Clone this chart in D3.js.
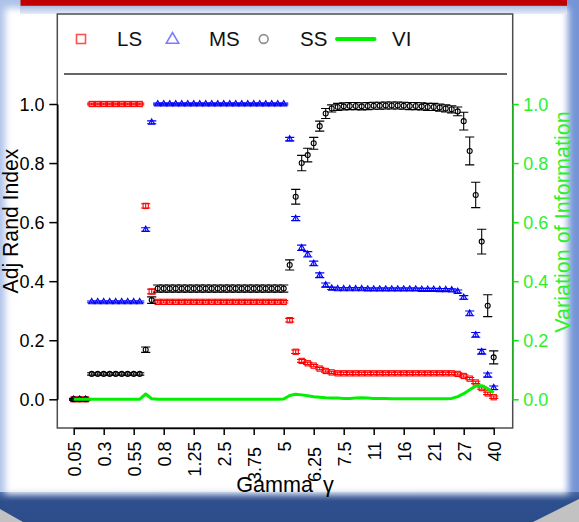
<!DOCTYPE html>
<html>
<head>
<meta charset="utf-8">
<script src="https://cdn.jsdelivr.net/npm/d3@7"></script>
<style>
body { margin: 0; overflow: hidden; background: #fff; }
svg text { font-family: "Liberation Sans", Arial, sans-serif; }
</style>
</head>
<body>
<div id="chart"></div>
<script>
"use strict"

// gamma value written under every fifth run
const tickLabels = ["0.05","0.3","0.55","0.8","1.25","2.5","3.75","5","6.25","7.5","11","16","21","27","40"];
const yTicks = [0, 0.2, 0.4, 0.6, 0.8, 1.0];

// adjusted Rand index per run (71 runs), with error half-widths
const ls = [0,0,0,
	1,1,1,1,1,1,1,1,1,
	0.655,0.365,
	0.33,0.33,0.33,0.33,0.33,0.33,0.33,0.33,0.33,0.33,0.33,0.33,0.33,0.33,0.33,0.33,0.33,0.33,0.33,0.33,0.33,0.33,
	0.268,0.161,0.13,0.122,0.114,0.104,0.096,0.091,
	0.088,0.088,0.088,0.088,0.088,0.088,0.088,0.088,0.088,0.088,0.088,0.088,0.088,0.088,0.088,0.088,0.088,0.088,0.088,0.088,
	0.086,0.079,0.07,0.057,0.038,0.02,0.007];
const lsErr = [0.002,0.002,0.002,
	0.003,0.003,0.003,0.003,0.003,0.003,0.003,0.003,0.003,
	0.007,0.008,
	0.004,0.004,0.004,0.004,0.004,0.004,0.004,0.004,0.004,0.004,0.004,0.004,0.004,0.004,0.004,0.004,0.004,0.004,0.004,0.004,0.004,0.004,
	0.006,0.006,0.005,0.004,0.004,0.004,0.004,0.004,
	0.004,0.004,0.004,0.004,0.004,0.004,0.004,0.004,0.004,0.004,0.004,0.004,0.004,0.004,0.004,0.004,0.004,0.004,0.004,0.004,
	0.004,0.004,0.004,0.004,0.004,0.004,0.004];

const ms = [0,0,0,
	0.33,0.33,0.33,0.33,0.33,0.33,0.33,0.33,0.33,
	0.575,0.938,
	1,1,1,1,1,1,1,1,1,1,1,1,1,1,1,1,1,1,1,1,1,1,
	0.881,0.612,0.513,0.491,0.46,0.42,0.387,0.376,
	0.374,0.374,0.374,0.374,0.374,0.373,0.373,0.373,0.373,0.373,0.373,0.373,0.373,0.373,0.372,0.372,0.372,0.371,0.371,0.37,
	0.365,0.345,0.291,0.218,0.161,0.082,0.039];
const msErr = [0.002,0.002,0.002,
	0.003,0.003,0.003,0.003,0.003,0.003,0.003,0.003,0.003,
	0.006,0.005,
	0.003,0.003,0.003,0.003,0.003,0.003,0.003,0.003,0.003,0.003,0.003,0.003,0.003,0.003,0.003,0.003,0.003,0.003,0.003,0.003,0.003,0.003,
	0.006,0.007,0.009,0.009,0.008,0.008,0.007,0.004,
	0.004,0.004,0.004,0.004,0.004,0.004,0.004,0.004,0.004,0.004,0.004,0.004,0.004,0.004,0.004,0.004,0.004,0.004,0.004,0.004,
	0.005,0.006,0.008,0.008,0.008,0.007,0.006];

const ss = [0,0,0,
	0.086,0.086,0.086,0.086,0.086,0.086,0.086,0.086,0.086,
	0.168,0.336,
	0.375,0.375,0.375,0.375,0.375,0.375,0.375,0.375,0.375,0.375,0.375,0.375,0.375,0.375,0.375,0.375,0.375,0.375,0.375,0.375,0.375,0.375,
	0.455,0.686,0.80,0.827,0.867,0.925,0.968,0.985,
	0.99,0.992,0.993,0.993,0.992,0.993,0.994,0.994,0.995,0.995,0.995,0.994,0.993,0.993,0.992,0.99,0.99,0.988,0.985,0.982,
	0.975,0.942,0.841,0.692,0.534,0.317,0.142];
const ssErr = [0.003,0.003,0.003,
	0.004,0.004,0.004,0.004,0.004,0.004,0.004,0.004,0.004,
	0.009,0.011,
	0.012,0.012,0.012,0.012,0.012,0.012,0.012,0.012,0.012,0.012,0.012,0.012,0.012,0.012,0.012,0.012,0.012,0.012,0.012,0.012,0.012,0.012,
	0.017,0.025,0.026,0.023,0.02,0.017,0.017,0.012,
	0.012,0.012,0.012,0.012,0.012,0.012,0.012,0.012,0.012,0.012,0.012,0.012,0.012,0.012,0.012,0.012,0.012,0.012,0.012,0.012,
	0.015,0.03,0.047,0.043,0.042,0.037,0.022];

// variation of information (right axis)
const vi = [0,0,0,0,0,0,0,0,0,0,0,
	0,0.018,0.002,
	0,0,0,0,0,0,0,0,0,0,0,0,0,0,0,0,0,0,0,0,0,
	0.001,0.013,0.017,0.015,0.012,0.009,0.007,0.005,0.004,0.004,0.003,0.003,0.004,0.005,0.004,
	0.003,0.003,0.003,0.002,0.002,0.002,0.002,0.002,0.002,0.002,0.002,0.002,0.002,
	0.003,0.009,0.019,0.032,0.045,0.046,0.036,0.022];

const W = 579, H = 522;
const box = {left: 57.3, right: 512.7, top: 14, bottom: 428};

const svg = d3.select("#chart").append("svg")
	.attr("width", W)
	.attr("height", H);

// ---- slide frame ----
const defs = svg.append("defs");
const bg = defs.append("linearGradient").attr("id", "bg")
	.attr("x1", 0).attr("x2", 1).attr("y1", 0).attr("y2", 0);
bg.append("stop").attr("offset", 0).attr("stop-color", "#aec3ea");
bg.append("stop").attr("offset", 1).attr("stop-color", "#7494d6");
const band = defs.append("linearGradient").attr("id", "band")
	.attr("x1", 0).attr("x2", 0).attr("y1", 0).attr("y2", 1);
band.append("stop").attr("offset", 0).attr("stop-color", "#4a6aa6");
band.append("stop").attr("offset", 0.3).attr("stop-color", "#2e4f8d");
band.append("stop").attr("offset", 1).attr("stop-color", "#2c4c8a");
const shade = defs.append("linearGradient").attr("id", "shade")
	.attr("x1", 0).attr("x2", 0).attr("y1", 0).attr("y2", 1);
shade.append("stop").attr("offset", 0).attr("stop-color", "#a9bce2");
shade.append("stop").attr("offset", 1).attr("stop-color", "#e6ecf7");
defs.append("filter").attr("id", "soft")
	.append("feGaussianBlur").attr("stdDeviation", 3.5);
defs.append("clipPath").attr("id", "plotClip")
	.append("rect")
	.attr("x", box.left).attr("y", box.top)
	.attr("width", box.right - box.left).attr("height", box.bottom - box.top);

svg.append("rect").attr("width", W).attr("height", H).attr("fill", "url(#bg)");
svg.append("rect").attr("x", 0).attr("y", 492).attr("width", W).attr("height", 30).attr("fill", "url(#band)");
svg.append("path").attr("d", "M0,509L23,522L0,522Z").attr("fill", "#c2c2c2");
svg.append("path").attr("d", "M533,522L579,499L579,522Z").attr("fill", "#c2c2c2");
svg.append("rect")
	.attr("x", 5).attr("y", 8).attr("width", 563).attr("height", 486)
	.attr("fill", "#fff").attr("filter", "url(#soft)");
svg.append("rect").attr("x", 20).attr("y", 5.5).attr("width", 547).attr("height", 8.5).attr("fill", "url(#shade)");
svg.append("rect").attr("x", 20.5).attr("y", 0).attr("width", 546.5).attr("height", 5.8).attr("fill", "#c00000");
svg.append("rect")
	.attr("x", box.left).attr("y", box.top)
	.attr("width", box.right - box.left).attr("height", box.bottom - box.top)
	.attr("fill", "#fff");

// ---- scales ----
const x = d3.scaleLinear().domain([0, ls.length - 1]).range([73.7, 493.7]);
const y = d3.scaleLinear().domain([0, 1]).range([399.3, 104]);
const yVi = d3.scaleLinear().domain([0, 1]).range([399.3, 104]);

const plot = svg.append("g").attr("clip-path", "url(#plotClip)");

function drawSeries(vals, errs, color, shape) {
	const g = plot.append("g")
		.attr("stroke", color)
		.attr("fill", "none")
		.attr("stroke-width", 1.1);
	const pt = g.selectAll("g")
		.data(vals.map((v, i) => ({i: i, v: v, e: errs[i]})))
		.join("g")
		.attr("transform", d => `translate(${x(d.i)},0)`);
	pt.append("path").attr("d", d => {
		const y0 = y(d.v - d.e), y1 = y(d.v + d.e);
		return `M-4.6,${y0}H4.6M0,${y0}V${y1}M-4.6,${y1}H4.6`;
	});
	if (shape === "square") {
		pt.append("rect")
			.attr("x", -2.6).attr("y", d => y(d.v) - 2.6)
			.attr("width", 5.2).attr("height", 5.2);
	} else if (shape === "triangle") {
		pt.append("path")
			.attr("d", d => `M0,${y(d.v) - 3.4}L3,${y(d.v) + 1.9}L-3,${y(d.v) + 1.9}Z`);
	} else {
		pt.append("circle").attr("cy", d => y(d.v)).attr("r", 2.5);
	}
}

drawSeries(ls, lsErr, "#ff0000", "square");
drawSeries(ms, msErr, "#0000ff", "triangle");
drawSeries(ss, ssErr, "#000000", "circle");

plot.append("path")
	.datum(vi)
	.attr("fill", "none")
	.attr("stroke", "#00f000")
	.attr("stroke-width", 3)
	.attr("stroke-linejoin", "round")
	.attr("d", d3.line().x((d, i) => x(i)).y(d => yVi(d)));

// ---- frame and axes ----
svg.append("rect")
	.attr("x", box.left).attr("y", box.top)
	.attr("width", box.right - box.left).attr("height", box.bottom - box.top)
	.attr("fill", "none").attr("stroke", "#4d4d4d").attr("stroke-width", 1.5);

// these two labels sit a little lower in the original
const droppedLabels = ["3.75", "6.25"];

const xAxis = svg.append("g")
	.attr("transform", `translate(0,${box.bottom})`)
	.style("color", "#000")
	.call(d3.axisBottom(x)
		.tickValues(tickLabels.map((t, k) => k * 5))
		.tickFormat((d, k) => tickLabels[k])
		.tickSize(7).tickSizeOuter(0));
xAxis.selectAll("path, line").attr("stroke-width", 1.5);
xAxis.selectAll("text")
	.attr("font-size", 18)
	.attr("font-family", "Liberation Sans, Arial, sans-serif")
	.attr("transform", "rotate(-90)")
	.attr("x", function() { return droppedLabels.indexOf(this.textContent) > -1 ? -19 : -13.5; })
	.attr("y", 0)
	.attr("dy", "0.36em")
	.attr("text-anchor", "end");

const yAxis = svg.append("g")
	.attr("transform", `translate(${box.left},0)`)
	.style("color", "#000")
	.call(d3.axisLeft(y).tickValues(yTicks).tickFormat(d3.format(".1f"))
		.tickSize(8).tickPadding(4.8).tickSizeOuter(0));
yAxis.selectAll("path, line").attr("stroke-width", 1.5);
yAxis.selectAll("text")
	.attr("font-size", 18)
	.attr("font-family", "Liberation Sans, Arial, sans-serif")
	.attr("dy", "0.36em");

const viAxis = svg.append("g")
	.attr("transform", `translate(${box.right},0)`)
	.style("color", "#00f000")
	.call(d3.axisRight(yVi).tickValues(yTicks).tickFormat(d3.format(".1f"))
		.tickSize(6).tickPadding(4.6).tickSizeOuter(0));
viAxis.selectAll("path, line").attr("stroke-width", 1.5);
viAxis.selectAll("text")
	.attr("font-size", 18)
	.attr("fill", "#2cf02c")
	.attr("font-family", "Liberation Sans, Arial, sans-serif")
	.attr("dy", "0.36em");

// axis titles
svg.append("text")
	.attr("transform", "translate(17.5,221)rotate(-90)")
	.attr("text-anchor", "middle")
	.attr("font-size", 21.2)
	.attr("fill", "#000")
	.text("Adj Rand Index");
svg.append("text")
	.attr("transform", "translate(570,222)rotate(-90)")
	.attr("text-anchor", "middle")
	.attr("font-size", 21.6)
	.attr("fill", "#2cf02c")
	.text("Variation of Information");
const xt = svg.append("text")
	.attr("x", 285).attr("y", 492)
	.attr("text-anchor", "middle")
	.attr("font-size", 21.6)
	.attr("fill", "#000");
xt.append("tspan").text("Gamma");
xt.append("tspan").attr("dx", 10).text("γ");

// ---- legend ----
const leg = svg.append("g");
leg.append("rect").attr("x", 76.5).attr("y", 34.5).attr("width", 9).attr("height", 9)
	.attr("fill", "none").attr("stroke", "#ff5050").attr("stroke-width", 1.6);
leg.append("path").attr("d", "M166.3,43.2L178.7,43.2L172.5,32.6Z")
	.attr("fill", "none").attr("stroke", "#7a7aff").attr("stroke-width", 1.6);
leg.append("circle").attr("cx", 263.7).attr("cy", 39).attr("r", 4.4)
	.attr("fill", "none").attr("stroke", "#8f8f8f").attr("stroke-width", 1.6);
leg.append("line").attr("x1", 337).attr("x2", 374.5).attr("y1", 39).attr("y2", 39)
	.attr("stroke", "#00f000").attr("stroke-width", 4).attr("stroke-linecap", "round");
const legText = [["LS", 117], ["MS", 209], ["SS", 300], ["VI", 392]];
leg.selectAll("text.lt").data(legText).join("text")
	.attr("class", "lt")
	.attr("x", d => d[1]).attr("y", 46)
	.attr("font-size", 20.5)
	.attr("fill", "#111")
	.text(d => d[0]);
svg.append("line").attr("x1", 64).attr("x2", 507).attr("y1", 74).attr("y2", 74)
	.attr("stroke", "#333").attr("stroke-width", 1.5);
</script>
</body>
</html>
